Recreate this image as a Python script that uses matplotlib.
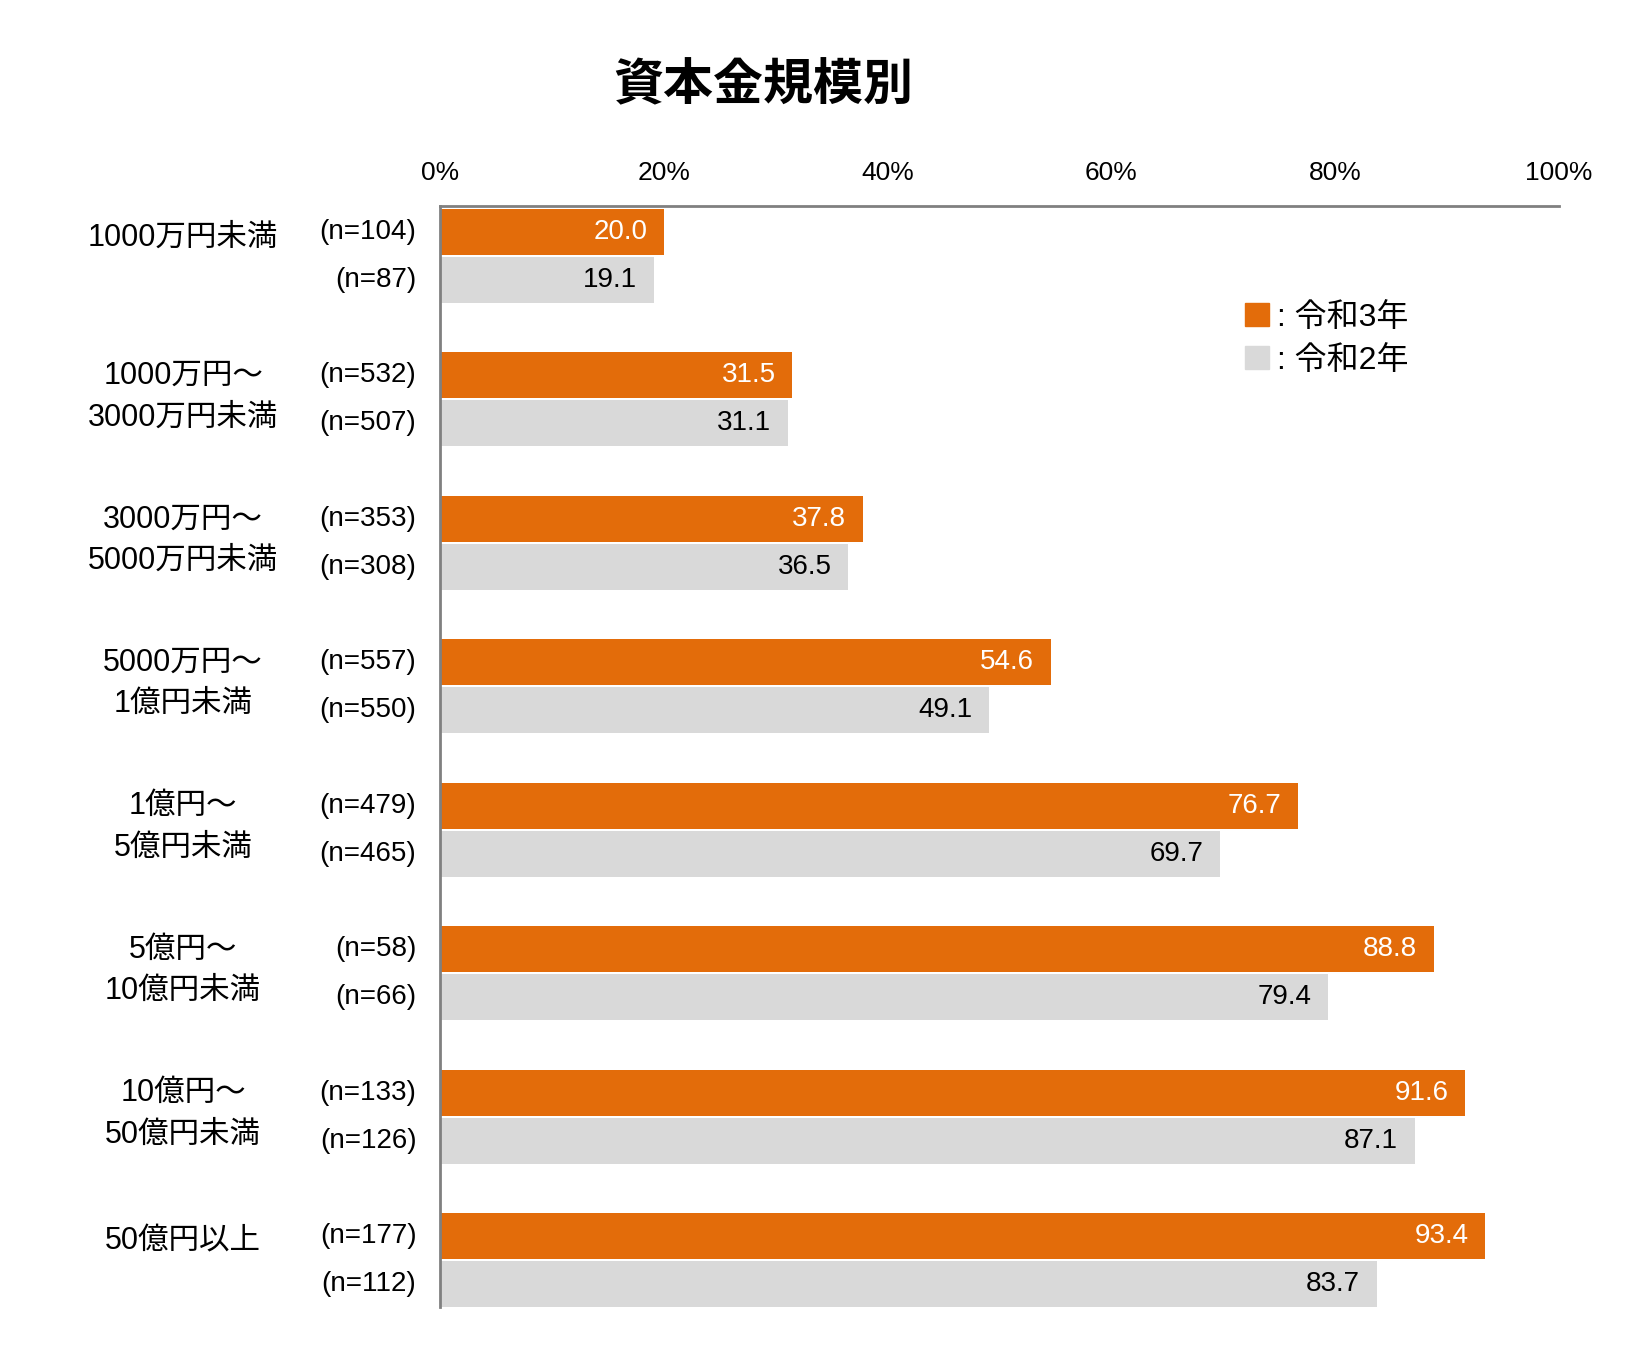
import numpy as np
import matplotlib
matplotlib.use("Agg")
import matplotlib.pyplot as plt
from matplotlib.patches import Patch

plt.rcParams['font.family'] = ['Liberation Sans', 'Noto Sans CJK JP', 'DejaVu Sans']

# data
categories = ['1000万円未満', '1000万円～\n3000万円未満', '3000万円～\n5000万円未満',
              '5000万円～\n1億円未満', '1億円～\n5億円未満', '5億円～\n10億円未満',
              '10億円～\n50億円未満', '50億円以上']
r3_values = [20.0, 31.5, 37.8, 54.6, 76.7, 88.8, 91.6, 93.4]
r2_values = [19.1, 31.1, 36.5, 49.1, 69.7, 79.4, 87.1, 83.7]
r3_n = [104, 532, 353, 557, 479, 58, 133, 177]
r2_n = [87, 507, 308, 550, 465, 66, 126, 112]
xticks = [0, 20, 40, 60, 80, 100]

orange = '#E36C0A'
gray = '#D9D9D9'

fig = plt.figure(figsize=(16.37, 13.56), dpi=100)
ax = fig.add_axes([0.2688, 0.0361, 0.6835, 0.8119])

y = np.arange(len(categories))
off = 0.335
h = 0.32
ax.barh(y, r3_values, height=h, color=orange)
ax.barh(y + off, r2_values, height=h, color=gray)

ax.set_xlim(0, 100)
ax.set_ylim(7 + off + h / 2, -0.18)

ax.xaxis.tick_top()
ax.set_xticks(xticks)
ax.set_xticklabels([f'{t}%' for t in xticks], fontsize=19)
ax.tick_params(axis='x', length=0, pad=15)
ax.set_yticks([])
for s in ['right', 'bottom']:
    ax.spines[s].set_visible(False)
for s in ['top', 'left']:
    ax.spines[s].set_color('#808080')
    ax.spines[s].set_linewidth(2)

for i in range(len(categories)):
    # value labels inside bars
    ax.annotate(f'{r3_values[i]:.1f}', (r3_values[i], y[i]), xytext=(-12, 0),
                textcoords='offset points', ha='right', va='center',
                fontsize=20, color='white')
    ax.annotate(f'{r2_values[i]:.1f}', (r2_values[i], y[i] + off), xytext=(-12, 0),
                textcoords='offset points', ha='right', va='center',
                fontsize=20, color='black')
    # sample sizes
    ax.annotate(f'(n={r3_n[i]})', (0, y[i]), xytext=(-17, 0),
                textcoords='offset points', ha='right', va='center', fontsize=20)
    ax.annotate(f'(n={r2_n[i]})', (0, y[i] + off), xytext=(-17, 0),
                textcoords='offset points', ha='right', va='center', fontsize=20)
    # category labels
    if '\n' in categories[i]:
        yc, dy = y[i] + off / 2, 2
    else:
        yc, dy = y[i], -4
    ax.annotate(categories[i], (0, yc), xytext=(-185, dy),
                textcoords='offset points', ha='center', va='center',
                fontsize=22, linespacing=1.5)

fig.text(0.466, 0.936, '資本金規模別', ha='center', va='center',
         fontsize=36, fontweight='bold')

handles = [Patch(color=orange), Patch(color=gray)]
ax.legend(handles, [': 令和3年', ': 令和2年'], loc='upper left',
          bbox_to_anchor=(1232 / 1637, 1 - 290 / 1356), bbox_transform=fig.transFigure,
          frameon=False, fontsize=23, handlelength=0.75, handleheight=0.75,
          handletextpad=0.25, labelspacing=0.4, borderaxespad=0)

fig.savefig('out.png', dpi=100)
